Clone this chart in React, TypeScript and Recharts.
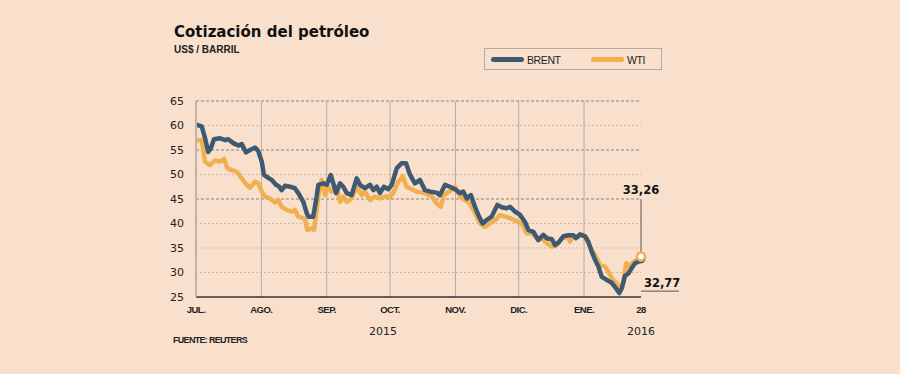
import React from "react";
import {
  LineChart,
  Line,
  XAxis,
  YAxis,
  ReferenceLine,
  ReferenceDot,
} from "recharts";

// days counted from 1 July 2015
const monthDays = [0, 31, 62, 92, 123, 153, 184, 211];
const monthLabels = ["JUL.", "AGO.", "SEP.", "OCT.", "NOV.", "DIC.", "ENE.", "28"];
const yTicks = [25, 30, 35, 40, 45, 50, 55, 60, 65];
const majorLevels = [65, 55, 45];
const minorLevels = [60, 50, 40, 35, 30];

const brentDays = [
  0, 2.7, 4.3, 5.8, 7, 8.5, 11.4, 13.8, 15.3, 17.7, 20.1, 21.7, 23.7, 25.6, 28, 29.5,
  31.2, 32.2, 34.3, 35.9, 37.9, 39.5, 40.6, 42.2, 44.6, 46.9, 48.5, 50.9, 52.5, 53.2,
  55.6, 57.2, 58, 60.4, 62, 63.9, 65.1, 66.4, 68.3, 69.8, 71.5, 73.8, 76.2, 77.8, 80.1,
  82.5, 84.1, 85.7, 87.2, 89.1, 91.2, 92.8, 95.2, 97.5, 99.6, 101.5, 103.8, 106.2, 108.6,
  111, 114.1, 115.7, 118.1, 120.4, 122.8, 125.2, 126.7, 128.4, 130.3, 132.3, 133.9,
  135.9, 137.8, 140.2, 142.9, 145, 147.3, 148.9, 151.3, 153.6, 156, 157.6, 160, 162.3,
  164.7, 166.3, 168.7, 170.3, 172.3, 174.2, 176.5, 178.9, 180.2, 182.1, 184.5, 186,
  187.6, 189.2, 190.8, 192.4, 194.7, 197.1, 199.1, 200.7, 201.9, 203.4, 205, 206.6,
  208.2, 209.8, 211,
];
const brentValues = [
  60.2, 59.8, 57.4, 54.6, 55.3, 57.2, 57.4, 57.0, 57.2, 56.4, 55.9, 56.2, 54.5, 55.0, 55.5, 54.8,
  52.6, 49.9, 49.3, 48.9, 47.9, 47.5, 46.8, 47.7, 47.5, 47.2, 46.2, 44.4, 42.1, 41.4,
  41.4, 45.5, 47.9, 48.2, 47.9, 49.9, 48.2, 46.2, 48.2, 47.5, 46.2, 45.8, 49.2, 47.9, 47.2,
  47.9, 46.8, 47.5, 46.2, 47.5, 47.0, 47.9, 51.3, 52.3, 52.3, 49.9, 48.2, 48.9, 46.8,
  46.5, 46.3, 45.8, 47.9, 47.5, 47.0, 46.2, 46.5, 45.1, 45.8, 43.4, 41.7,
  40.0, 40.7, 41.4, 43.8, 43.3, 43.1, 43.4, 42.4, 41.8, 40.3, 38.7, 38.3, 36.6,
  37.7, 37.0, 36.8, 35.6, 36.3, 37.4, 37.6, 37.6, 37.0, 37.8, 37.4, 36.3,
  34.3, 32.6, 31.2, 29.1, 28.5, 27.9, 26.8, 25.8, 26.8, 29.3, 29.8, 30.9,
  31.9, 32.2, 32.77,
];

const wtiDays = [
  0, 2.7, 4.3, 6.6, 9, 11.4, 13.3, 14.8, 16.9, 19.3, 21.7, 24, 25.6, 28, 29.5, 31.2,
  32.7, 35.1, 37.5, 39, 40.6, 43, 45.4, 46.9, 48.5, 50.9, 51.7, 52.8, 54.9, 56, 58,
  59.6, 61.2, 62.7, 64.3, 66.7, 68.3, 69.8, 71.5, 73.8, 76.2, 78.6, 80.1, 82.5, 84.9,
  87.2, 89.6, 92, 93.5, 95.9, 98, 99.9, 102.3, 104.6, 108.6, 111.8, 114.1, 116, 117.6,
  120.1, 122.8, 125.2, 127.5, 129.9, 132.3, 134.7, 137, 139.4, 141.8, 144.1, 146.5,
  148.9, 152.1, 154.4, 156.8, 159.2, 161.6, 164, 166.3, 168.7, 171, 173.4, 176.5, 177.3,
  178.9, 181.3, 183.6, 186, 187.6, 189.2, 191.6, 194, 195.5, 197.6, 199.5, 201.1, 202.7,
  204, 205.8, 207.4, 209.3, 211,
];
const wtiValues = [
  57.0, 57.0, 52.6, 51.9, 52.9, 52.6, 53.2, 51.3, 50.9, 50.6, 49.2, 47.9, 47.3, 48.5, 48.2, 46.5,
  45.5, 45.1, 44.3, 44.8, 43.4, 42.8, 42.4, 42.8, 41.4, 41.1, 40.7, 38.7, 39.0, 38.7, 45.5,
  48.9, 45.8, 47.5, 46.5, 47.5, 44.4, 45.5, 44.4, 45.1, 47.5, 45.8, 46.5, 44.8, 45.5,
  45.1, 45.5, 45.5, 46.2, 48.5, 49.6, 47.5, 47.0, 46.5, 46.2, 45.5, 44.1, 43.4, 45.8,
  46.5, 47.5, 45.5, 44.8, 44.1, 42.1, 40.0, 39.3, 40.0, 40.7, 41.7, 41.4,
  41.1, 40.4, 40.0, 38.0, 38.0, 37.0, 37.0, 36.0, 35.3, 35.6, 37.0, 37.3, 36.3,
  37.4, 37.3, 37.7, 36.0, 34.6, 33.6, 31.5, 31.2, 30.2, 28.5, 27.8, 26.3, 28.1,
  31.9, 31.2, 32.2, 32.6, 33.26,
];

const BRENT = "#3e5a73";
const WTI = "#f0b050";
const BG = "#f9e0cd";

const brentData = brentDays.map((day, i) => ({ day, value: brentValues[i] }));
const wtiData = wtiDays.map((day, i) => ({ day, value: wtiValues[i] }));

const tickFont = "'DejaVu Sans', sans-serif";
const narrowFont = "'Liberation Sans', Arial, sans-serif";

export default function App() {
  return (
    <div
      style={{
        position: "absolute",
        left: 0,
        top: 0,
        width: 900,
        height: 374,
        background: BG,
        overflow: "hidden",
      }}
    >
      <div
        style={{
          position: "absolute",
          left: 174,
          top: 23,
          fontFamily: tickFont,
          fontWeight: "bold",
          fontSize: 15,
          color: "#111",
          whiteSpace: "nowrap",
        }}
      >
        Cotización del petróleo
      </div>
      <div
        style={{
          position: "absolute",
          left: 174,
          top: 44,
          fontFamily: narrowFont,
          fontWeight: "bold",
          fontSize: 10,
          color: "#222",
        }}
      >
        US$ / BARRIL
      </div>

      {/* legend box */}
      <div
        style={{
          position: "absolute",
          left: 484,
          top: 48,
          width: 178,
          height: 22,
          border: "1px solid #b5aaa2",
          boxSizing: "border-box",
          fontFamily: narrowFont,
          fontSize: 10.5,
          letterSpacing: -0.4,
          color: "#222",
        }}
      >
        <LegendItem color={BRENT} label="BRENT" left={6} />
        <LegendItem color={WTI} label="WTI" left={106} />
      </div>

      <div style={{ position: "absolute", left: 0, top: 0 }}>
        <LineChart
          width={900}
          height={374}
          margin={{ top: 101, right: 259, bottom: 47, left: 156 }}
        >
          <XAxis
            dataKey="day"
            type="number"
            domain={[0, 211]}
            ticks={monthDays}
            tickFormatter={(v) => monthLabels[monthDays.indexOf(v)] ?? ""}
            interval={0}
            tickLine={false}
            axisLine={{ stroke: "#333", strokeWidth: 1.5 }}
            tick={{
              fill: "#222",
              fontSize: 9.5,
              fontWeight: "bold",
              fontFamily: narrowFont,
              letterSpacing: -0.5,
            }}
            tickMargin={3}
            height={30}
            allowDataOverflow
          />
          <YAxis
            type="number"
            domain={[25, 65]}
            ticks={yTicks}
            interval={0}
            width={40}
            tickLine={false}
            axisLine={{ stroke: "#bdb3aa", strokeWidth: 2 }}
            tick={{ fill: "#222", fontSize: 11, fontFamily: tickFont }}
            tickMargin={6}
          />

          {minorLevels.map((v) => (
            <ReferenceLine
              key={"mi" + v}
              y={v}
              stroke="#cdb9a9"
              strokeDasharray="2 2"
            />
          ))}
          {majorLevels.map((v) => (
            <ReferenceLine
              key={"ma" + v}
              y={v}
              stroke="#8a817a"
              strokeDasharray="3 2"
            />
          ))}
          {monthDays.slice(1, -1).map((d) => (
            <ReferenceLine key={"m" + d} x={d} stroke="#b2aaa3" />
          ))}

          <Line
            data={wtiData}
            dataKey="value"
            type="linear"
            stroke={WTI}
            strokeWidth={4.5}
            strokeLinejoin="round"
            strokeLinecap="round"
            dot={false}
            isAnimationActive={false}
          />
          <Line
            data={brentData}
            dataKey="value"
            type="linear"
            stroke={BRENT}
            strokeWidth={4.5}
            strokeLinejoin="round"
            strokeLinecap="round"
            dot={false}
            isAnimationActive={false}
          />

          {/* end annotations */}
          <ReferenceLine
            segment={[
              { x: 211, y: 45 },
              { x: 211, y: 33.26 },
            ]}
            stroke="#555"
          />
          <ReferenceLine
            segment={[
              { x: 211, y: 32.77 },
              { x: 211, y: 26.2 },
              { x: 229, y: 26.2 },
            ]}
            stroke="#555"
            ifOverflow="visible"
          />
          <ReferenceLine
            segment={[
              { x: 211, y: 26.2 },
              { x: 229, y: 26.2 },
            ]}
            stroke="#555"
            ifOverflow="visible"
          />
          <ReferenceDot
            x={211}
            y={32.77}
            r={3.5}
            fill="#fff"
            stroke={BRENT}
            strokeWidth={2}
          />
          <ReferenceDot
            x={211}
            y={33.26}
            r={4}
            fill="#fff"
            stroke={WTI}
            strokeWidth={2.5}
          />
          <ReferenceDot
            x={211}
            y={45}
            r={0}
            ifOverflow="visible"
            label={{
              value: "33,26",
              position: "top",
              offset: 5,
              fill: "#111",
              fontSize: 11.5,
              fontWeight: "bold",
              fontFamily: tickFont,
            }}
          />
          <ReferenceDot
            x={221}
            y={26.2}
            r={0}
            ifOverflow="visible"
            label={{
              value: "32,77",
              position: "top",
              offset: 4,
              fill: "#111",
              fontSize: 11.5,
              fontWeight: "bold",
              fontFamily: tickFont,
            }}
          />
        </LineChart>
      </div>

      <div
        style={{
          position: "absolute",
          left: 369,
          top: 325,
          fontFamily: tickFont,
          fontSize: 11,
          color: "#222",
        }}
      >
        2015
      </div>
      <div
        style={{
          position: "absolute",
          left: 627,
          top: 325,
          fontFamily: tickFont,
          fontSize: 11,
          color: "#222",
        }}
      >
        2016
      </div>
      <div
        style={{
          position: "absolute",
          left: 173,
          top: 335,
          fontFamily: narrowFont,
          fontWeight: "bold",
          fontSize: 9,
          letterSpacing: -0.7,
          color: "#222",
        }}
      >
        FUENTE: REUTERS
      </div>
    </div>
  );
}

function LegendItem({ color, label, left }: { color: string; label: string; left: number }) {
  return (
    <div
      style={{
        position: "absolute",
        left,
        top: 4,
        display: "flex",
        alignItems: "center",
        height: 13,
      }}
    >
      <span
        style={{
          display: "inline-block",
          width: 33,
          height: 5,
          borderRadius: 3,
          background: color,
          marginRight: 3,
        }}
      />
      <span>{label}</span>
    </div>
  );
}
